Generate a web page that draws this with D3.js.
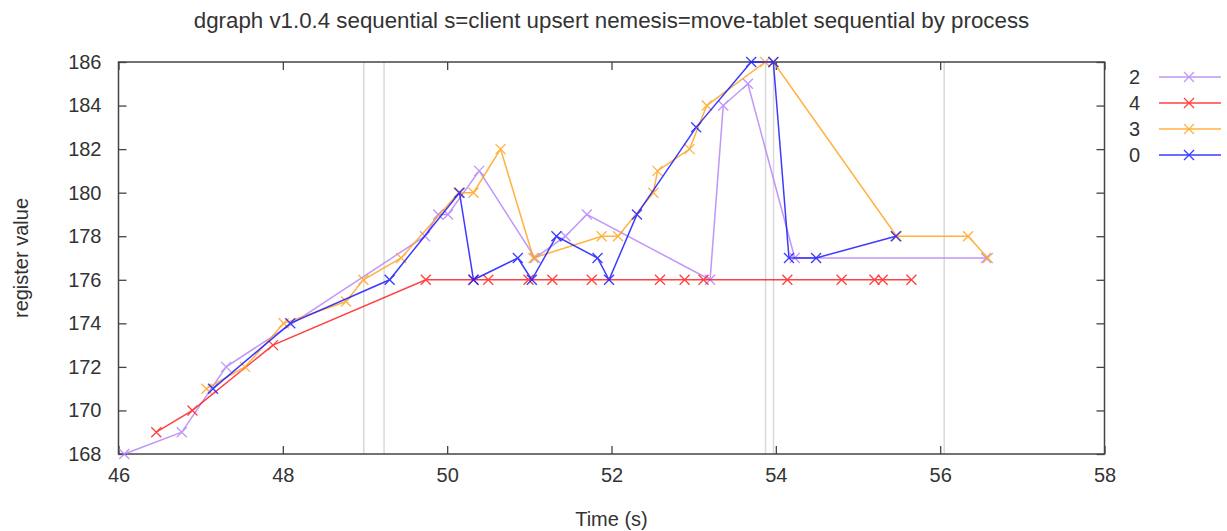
<!DOCTYPE html>
<html>
<head>
<meta charset="utf-8">
<script src="https://cdn.jsdelivr.net/npm/d3@7"></script>
<style>
  body { margin: 0; background: #fff; }
  text { font-family: "Liberation Sans", Arial, sans-serif; fill: #333; }
</style>
</head>
<body>
<div id="cnt"></div>
<script>
const titleText = 'dgraph v1.0.4 sequential s=client upsert nemesis=move-tablet sequential by process'
const xTicks = [46, 48, 50, 52, 54, 56, 58]
const yTicks = [168, 170, 172, 174, 176, 178, 180, 182, 184, 186]

// nemesis marks (s)
const nemesisTimes = [48.985, 49.232, 53.875, 53.972, 56.049]

const procs = ['2', '4', '3', '0']
const procColors = ['#b585fb', '#ff2020', '#ffa51f', '#1a1aff']

const p2Time = [46.07, 46.77, 47.31, 49.73, 49.89, 50.01, 50.39, 51.07, 51.44, 51.70, 53.20, 53.36, 53.66, 54.23, 56.56]
const p2Value = [168, 169, 172, 178, 179, 179, 181, 177, 178, 179, 176, 184, 185, 177, 177]

const p4Time = [46.46, 46.90, 47.88, 49.74, 50.32, 50.50, 50.99, 51.28, 51.76, 52.59, 52.89, 53.12, 54.14, 54.80, 55.20, 55.30, 55.65]
const p4Value = [169, 170, 173, 176, 176, 176, 176, 176, 176, 176, 176, 176, 176, 176, 176, 176, 176]

const p3Time = [47.07, 47.54, 48.01, 48.77, 48.98, 49.44, 50.14, 50.32, 50.65, 51.05, 51.88, 52.08, 52.51, 52.56, 52.95, 53.16, 53.87, 53.97, 55.47, 56.34, 56.58]
const p3Value = [171, 172, 174, 175, 176, 177, 180, 180, 182, 177, 178, 178, 180, 181, 182, 184, 186, 186, 178, 178, 177]

const p0Time = [47.15, 48.09, 49.30, 50.15, 50.32, 50.86, 51.03, 51.33, 51.83, 51.97, 52.31, 53.03, 53.70, 53.97, 54.16, 54.49, 55.46]
const p0Value = [171, 174, 176, 180, 176, 177, 176, 178, 177, 176, 179, 183, 186, 186, 177, 177, 178]

const seriesTimes = [p2Time, p4Time, p3Time, p0Time]
const seriesValues = [p2Value, p4Value, p3Value, p0Value]

const width = 1227
const height = 531
const margin = {left: 118.5, right: 122.5, top: 62, bottom: 77}
const fontSize = '20px'

const svg = d3.select('#cnt')
    .append('svg')
    .attr('width', width)
    .attr('height', height)

const x = d3.scaleLinear()
    .domain([46, 58])
    .range([margin.left, width - margin.right])

const y = d3.scaleLinear()
    .domain([168, 186])
    .range([height - margin.bottom, margin.top])

// nemesis lines
svg.append('g')
    .selectAll('line')
    .data(nemesisTimes)
    .join('line')
    .attr('x1', d => x(d))
    .attr('x2', d => x(d))
    .attr('y1', y(186))
    .attr('y2', y(168))
    .attr('stroke', '#d9d9d9')
    .attr('stroke-width', 1.5)

const tickLen = 8

const xAxis = svg.append('g')
    .attr('transform', `translate(0,${y(168)})`)
    .call(d3.axisBottom(x).tickValues(xTicks).tickSizeInner(-tickLen).tickSizeOuter(0).tickPadding(14))
const yAxis = svg.append('g')
    .attr('transform', `translate(${x(46)},0)`)
    .call(d3.axisLeft(y).tickValues(yTicks).tickSizeInner(-tickLen).tickSizeOuter(0).tickPadding(17))
svg.append('g')
    .attr('transform', `translate(0,${y(186)})`)
    .call(d3.axisTop(x).tickValues(xTicks).tickSizeInner(-tickLen).tickSizeOuter(0).tickFormat(''))
svg.append('g')
    .attr('transform', `translate(${x(58)},0)`)
    .call(d3.axisRight(y).tickValues(yTicks).tickSizeInner(-tickLen).tickSizeOuter(0).tickFormat(''))

svg.selectAll('.domain').remove()
svg.selectAll('.tick line').attr('stroke', '#444').attr('stroke-width', 1.3)
xAxis.selectAll('text').style('font-size', fontSize).attr('fill', '#333')
yAxis.selectAll('text').style('font-size', fontSize).attr('fill', '#333')

svg.append('rect')
    .attr('x', x(46))
    .attr('y', y(186))
    .attr('width', x(58) - x(46))
    .attr('height', y(168) - y(186))
    .attr('fill', 'none')
    .attr('stroke', '#444')
    .attr('stroke-width', 1.5)

svg.append('text')
    .attr('x', (x(46) + x(58)) / 2)
    .attr('y', 28)
    .attr('text-anchor', 'middle')
    .style('font-size', '22.3px')
    .text(titleText)

svg.append('text')
    .attr('x', (x(46) + x(58)) / 2)
    .attr('y', 526)
    .attr('text-anchor', 'middle')
    .style('font-size', fontSize)
    .text('Time (s)')

svg.append('text')
    .attr('transform', `translate(28,${(y(168) + y(186)) / 2}) rotate(-90)`)
    .attr('text-anchor', 'middle')
    .style('font-size', fontSize)
    .text('register value')

const line = d3.line()
    .x(d => x(d[0]))
    .y(d => y(d[1]))

const cross = (g, cx, cy, color) => {
    const s = 5
    g.append('path')
        .attr('d', `M${cx - s},${cy - s}L${cx + s},${cy + s}M${cx - s},${cy + s}L${cx + s},${cy - s}`)
        .attr('stroke', color)
        .attr('stroke-width', 1.3)
        .attr('fill', 'none')
}

procs.forEach((p, i) => {
    const pts = d3.zip(seriesTimes[i], seriesValues[i])
    const g = svg.append('g').attr('opacity', 0.85)
    g.append('path')
        .datum(pts)
        .attr('d', line)
        .attr('fill', 'none')
        .attr('stroke', procColors[i])
        .attr('stroke-width', 1.5)
    for (const [t, v] of pts) cross(g, x(t), y(v), procColors[i])

    // legend
    const ly = 77 + i * 26
    svg.append('text')
        .attr('x', 1140)
        .attr('y', ly + 7)
        .attr('text-anchor', 'end')
        .style('font-size', fontSize)
        .text(p)
    const lg = svg.append('g').attr('opacity', 0.85)
    lg.append('line')
        .attr('x1', 1159)
        .attr('x2', 1221)
        .attr('y1', ly)
        .attr('y2', ly)
        .attr('stroke', procColors[i])
        .attr('stroke-width', 1.5)
    cross(lg, 1189, ly, procColors[i])
})
</script>
</body>
</html>
